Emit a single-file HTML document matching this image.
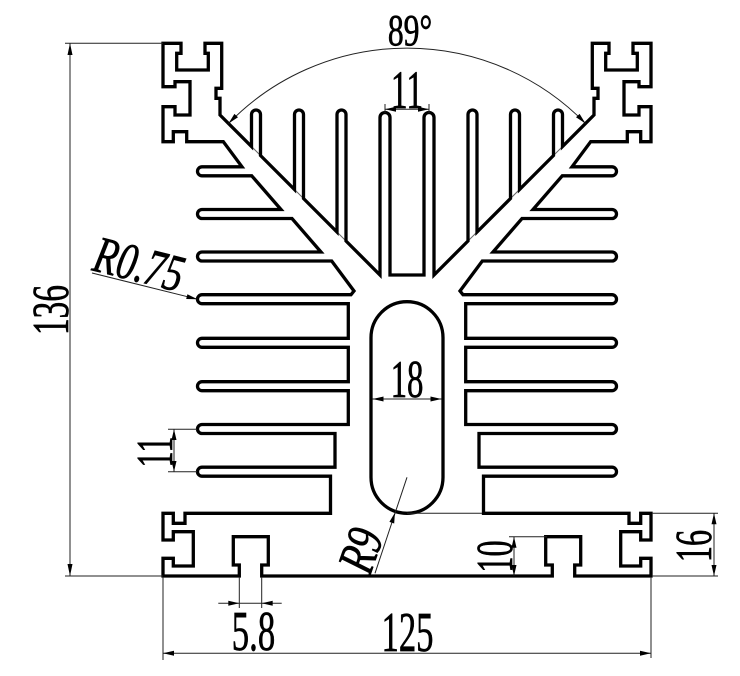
<!DOCTYPE html>
<html>
<head>
<meta charset="utf-8">
<style>
html,body{margin:0;padding:0;background:#fff;}
svg{display:block;}
text{font-family:"Liberation Serif",serif;fill:#000;}
</style>
</head>
<body>
<svg width="740" height="676" viewBox="0 0 740 676" xmlns="http://www.w3.org/2000/svg">
<rect x="0" y="0" width="740" height="676" fill="#fff"/>

<!-- thin lines under fin bases along arms -->
<g stroke="#666" stroke-width="1" fill="none">
  <line x1="220" y1="115" x2="380" y2="275"/>
  <line x1="594" y1="115" x2="434" y2="275"/>
</g>

<!-- profile outline -->
<g fill="none" stroke="#000" stroke-width="3.3" stroke-linejoin="miter" stroke-miterlimit="6">
<path d="M407 275 L390 275 L390 117.5 A5 5 0 0 0 380 117.5 L380 275 L346 241 L346 114.5 A4.5 4.5 0 0 0 337 114.5 L337 232 L303.5 198.5 L303.5 114.5 A4.5 4.5 0 0 0 294.5 114.5 L294.5 189.5 L260.5 155.5 L260.5 114.5 A4.5 4.5 0 0 0 251.5 114.5 L251.5 146.5 L220 115 L220 98.3 L216 98.3 L216 88.3 L221.7 88.3 L221.7 43.3 L205 43.3 L205 53.3 L208.3 53.3 L208.3 70 L176.7 70 L176.7 53.3 L181 53.3 L181 43.3 L163 43.3 L163 86.7 L175 86.7 L175 81.7 L190 81.7 L190 115 L175 115 L175 106.7 L163 106.7 L163 141.7 L173.3 141.7 L173.3 131.7 L186.7 131.7 L186.7 141.7 L223.3 141.7 L242 166.8 L202 166.8 A4.5 4.5 0 0 0 202 175.8 L251.7 175.8 L281 209.5 L202 209.5 A4.5 4.5 0 0 0 202 218.5 L292 218.5 L321 252 L202 252 A4.5 4.5 0 0 0 202 261 L331.7 261 L354 291 L351 294.7 L202 294.7 A4.5 4.5 0 0 0 202 303.7 L348.3 303.7 L348.3 338.3 L202 338.3 A4.5 4.5 0 0 0 202 347.3 L348.3 347.3 L348.3 381.7 L202 381.7 A4.5 4.5 0 0 0 202 390.7 L348.3 390.7 L348.3 424.5 L202 424.5 A4.5 4.5 0 0 0 202 433.5 L335 433.5 L335 467.2 L202 467.2 A4.5 4.5 0 0 0 202 476.2 L330.5 476.2 L330.5 513.3 L185 513.3 L185 523.3 L173.3 523.3 L173.3 513.3 L163 513.3 L163 540 L173.3 540 L173.3 531.7 L193.3 531.7 L193.3 566 L173.3 566 L173.3 558.3 L163 558.3 L163 576 L239.3 576 L239.3 565 L233.3 565 L233.3 536.7 L268.3 536.7 L268.3 565 L261.7 565 L261.7 576 L407 576"/>
<path transform="matrix(-1 0 0 1 814 0)" d="M407 275 L390 275 L390 117.5 A5 5 0 0 0 380 117.5 L380 275 L346 241 L346 114.5 A4.5 4.5 0 0 0 337 114.5 L337 232 L303.5 198.5 L303.5 114.5 A4.5 4.5 0 0 0 294.5 114.5 L294.5 189.5 L260.5 155.5 L260.5 114.5 A4.5 4.5 0 0 0 251.5 114.5 L251.5 146.5 L220 115 L220 98.3 L216 98.3 L216 88.3 L221.7 88.3 L221.7 43.3 L205 43.3 L205 53.3 L208.3 53.3 L208.3 70 L176.7 70 L176.7 53.3 L181 53.3 L181 43.3 L163 43.3 L163 86.7 L175 86.7 L175 81.7 L190 81.7 L190 115 L175 115 L175 106.7 L163 106.7 L163 141.7 L173.3 141.7 L173.3 131.7 L186.7 131.7 L186.7 141.7 L223.3 141.7 L242 166.8 L202 166.8 A4.5 4.5 0 0 0 202 175.8 L251.7 175.8 L281 209.5 L202 209.5 A4.5 4.5 0 0 0 202 218.5 L292 218.5 L321 252 L202 252 A4.5 4.5 0 0 0 202 261 L331.7 261 L354 291 L351 294.7 L202 294.7 A4.5 4.5 0 0 0 202 303.7 L348.3 303.7 L348.3 338.3 L202 338.3 A4.5 4.5 0 0 0 202 347.3 L348.3 347.3 L348.3 381.7 L202 381.7 A4.5 4.5 0 0 0 202 390.7 L348.3 390.7 L348.3 424.5 L202 424.5 A4.5 4.5 0 0 0 202 433.5 L335 433.5 L335 467.2 L202 467.2 A4.5 4.5 0 0 0 202 476.2 L330.5 476.2 L330.5 513.3 L185 513.3 L185 523.3 L173.3 523.3 L173.3 513.3 L163 513.3 L163 540 L173.3 540 L173.3 531.7 L193.3 531.7 L193.3 566 L173.3 566 L173.3 558.3 L163 558.3 L163 576 L239.3 576 L239.3 565 L233.3 565 L233.3 536.7 L268.3 536.7 L268.3 565 L261.7 565 L261.7 576 L407 576"/>
<rect x="371" y="301.7" width="72" height="211.6" rx="36" ry="36"/>
</g>

<!-- dimension lines -->
<g stroke="#222" stroke-width="1" fill="none">
  <line x1="70" y1="43.3" x2="70" y2="576"/>
  <line x1="65" y1="43.3" x2="163" y2="43.3"/>
  <line x1="65" y1="576" x2="163" y2="576"/>
  <line x1="174" y1="429.2" x2="174" y2="471.7"/>
  <line x1="168" y1="429.2" x2="197" y2="429.2"/>
  <line x1="168" y1="471.7" x2="197" y2="471.7"/>
  <line x1="92" y1="273" x2="197.5" y2="299.2"/>
  <path d="M228.5 123.5 A249 249 0 0 1 585.5 123.5"/>
  <line x1="385" y1="104" x2="385" y2="113"/>
  <line x1="429" y1="104" x2="429" y2="113"/>
  <line x1="385" y1="109.3" x2="429" y2="109.3"/>
  <line x1="372.5" y1="399" x2="441.5" y2="399"/>
  <line x1="407" y1="477.3" x2="375" y2="573.3"/>
  <line x1="407" y1="513.3" x2="482" y2="513.3"/>
  <line x1="514" y1="536.7" x2="514" y2="576"/>
  <line x1="509" y1="536.7" x2="547" y2="536.7"/>
  <line x1="714" y1="513.3" x2="714" y2="576"/>
  <line x1="652" y1="513.3" x2="718" y2="513.3"/>
  <line x1="652" y1="576" x2="718" y2="576"/>
  <line x1="163" y1="653.3" x2="651" y2="653.3"/>
  <line x1="163" y1="577" x2="163" y2="660"/>
  <line x1="651" y1="577" x2="651" y2="658"/>
  <line x1="239.3" y1="577" x2="239.3" y2="608"/>
  <line x1="261.7" y1="577" x2="261.7" y2="608"/>
  <line x1="218.3" y1="603.3" x2="281.7" y2="603.3"/>
</g>

<!-- arrowheads -->
<g fill="#000" stroke="none">
  <polygon points="70,43.3 67.5,55 72.5,55"/>
  <polygon points="70,576 67.5,564 72.5,564"/>
  <polygon points="174,429.2 171.5,440 176.5,440"/>
  <polygon points="174,471.7 171.5,461 176.5,461"/>
  <polygon points="197.5,299.2 186.2,299 187.4,294.2"/>
  <polygon points="228.5,123.5 238,117.3 234.4,113.9"/>
  <polygon points="585.5,123.5 576,117.3 579.6,113.9"/>
  <polygon points="385,109.3 396,106.8 396,111.8"/>
  <polygon points="429,109.3 418,106.8 418,111.8"/>
  <polygon points="372.5,399 383.5,396.5 383.5,401.5"/>
  <polygon points="441.5,399 430.5,396.5 430.5,401.5"/>
  <polygon points="394.9,512.8 394.2,523.5 389.4,521.9"/>
  <polygon points="514,536.7 511.5,547.7 516.5,547.7"/>
  <polygon points="514,576 511.5,565 516.5,565"/>
  <polygon points="714,513.3 711.5,524.3 716.5,524.3"/>
  <polygon points="714,576 711.5,565 716.5,565"/>
  <polygon points="163,653.3 174,650.8 174,655.8"/>
  <polygon points="651,653.3 640,650.8 640,655.8"/>
  <polygon points="239.3,603.3 228.3,600.8 228.3,605.8"/>
  <polygon points="261.7,603.3 272.7,600.8 272.7,605.8"/>
</g>

<!-- labels -->
<g text-anchor="middle" stroke="#000" stroke-width="0.7">
  <text transform="translate(410,45) scale(0.72,1)" font-size="44">89°</text>
  <text transform="translate(407,108) scale(0.62,1)" font-size="54">11</text>
  <text transform="translate(407,397) scale(0.62,1)" font-size="53">18</text>
  <text transform="translate(407.5,651) scale(0.62,1)" font-size="56">125</text>
  <text transform="translate(253.5,650) scale(0.62,1)" font-size="56">5.8</text>
  <text transform="translate(68,310) rotate(-90) scale(0.64,1)" font-size="52">136</text>
  <text transform="translate(172,452) rotate(-90) scale(0.62,1)" font-size="52">11</text>
  <text transform="translate(512,556.5) rotate(-90) scale(0.62,1)" font-size="52">10</text>
  <text transform="translate(711,546) rotate(-90) scale(0.62,1)" font-size="52">16</text>
  <text transform="translate(135,281) rotate(14) scale(0.74,1)" font-size="52" font-style="italic">R0.75</text>
  <text transform="translate(377,556) rotate(-71) scale(0.74,1)" font-size="52" font-style="italic">R9</text>
</g>
</svg>
</body>
</html>
